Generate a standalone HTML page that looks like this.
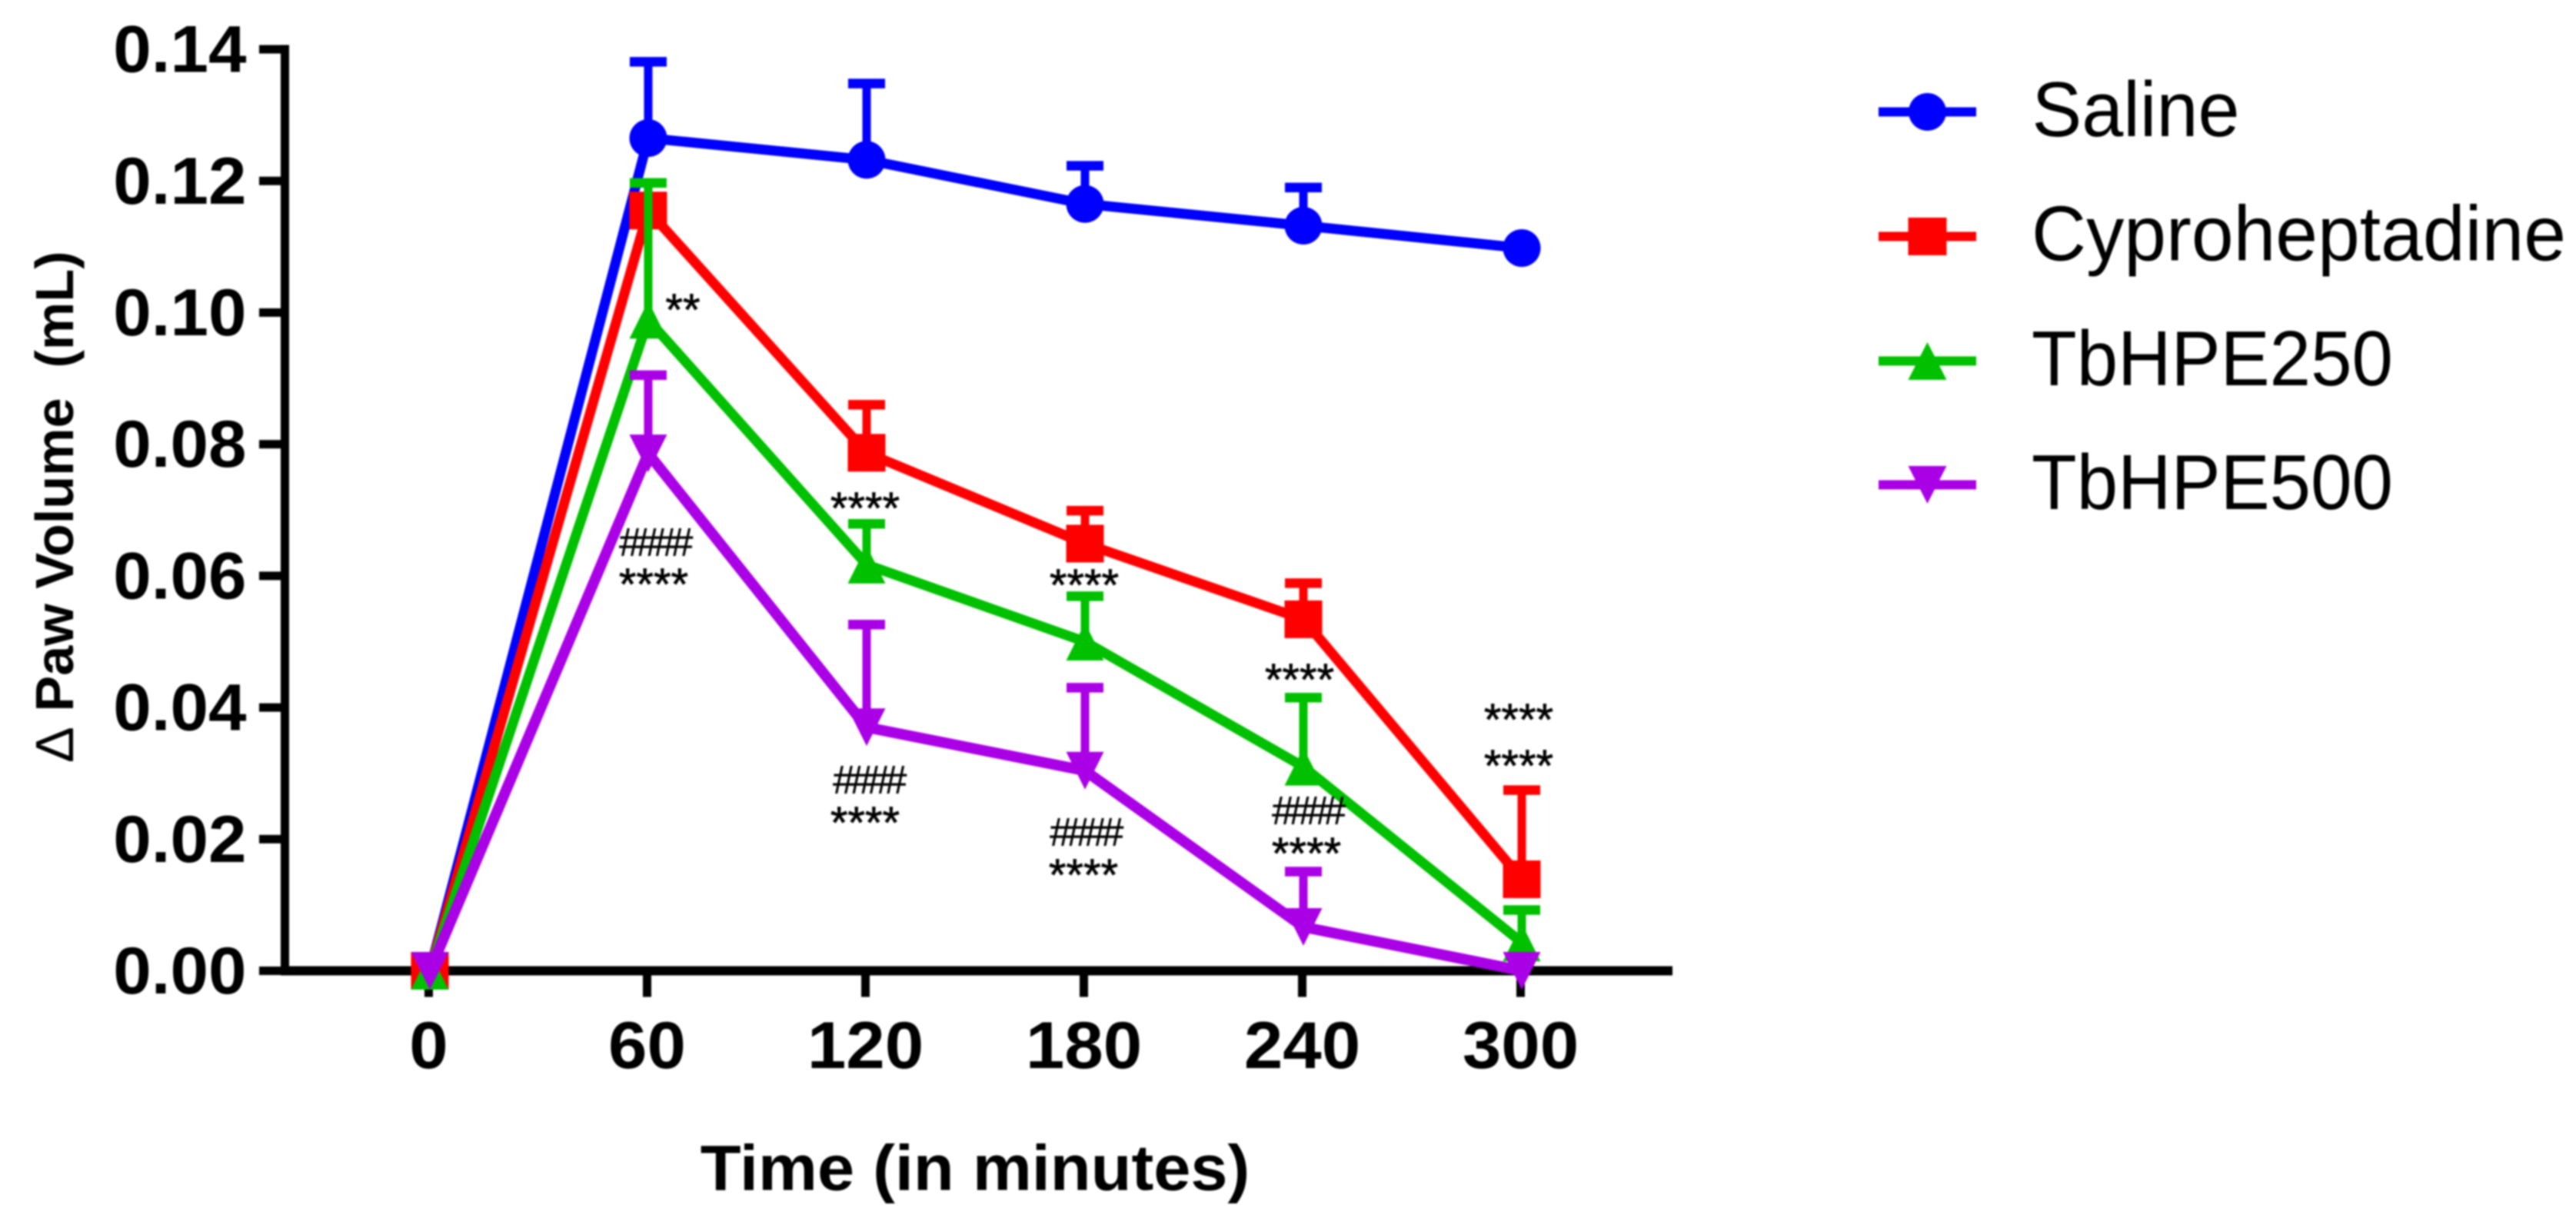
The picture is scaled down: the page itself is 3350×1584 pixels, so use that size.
<!DOCTYPE html>
<html lang="en">
<head>
<meta charset="utf-8">
<title>Paw Volume Chart</title>
<style>
html,body{margin:0;padding:0;background:#fff;}
svg{display:block;filter:blur(1px);}
text{font-family:"Liberation Sans",Arial,sans-serif;fill:#000;}
.star{font-size:58px;text-anchor:middle;stroke:#000;stroke-width:0.7px;}
.hash{font-size:52px;text-anchor:middle;letter-spacing:-6.5px;stroke:#000;stroke-width:0.4px;}
.leg{font-size:101px;}
</style>
</head>
<body>
<svg id="chart" xmlns="http://www.w3.org/2000/svg" width="3350" height="1584" viewBox="0 0 3350 1584">
  <rect x="0" y="0" width="3350" height="1584" fill="#fff"/>
  <g id="axes"></g>
  <g id="series"></g>

  <g>
    <text class="star" x="888" y="423">**</text>
    <text class="hash" x="850" y="723">####</text>
    <text class="star" x="850" y="780">****</text>
    <text class="star" x="1125" y="681">****</text>
    <text class="hash" x="1128" y="1032">####</text>
    <text class="star" x="1125" y="1090">****</text>
    <text class="star" x="1410" y="781">****</text>
    <text class="hash" x="1410" y="1100">####</text>
    <text class="star" x="1409" y="1158">****</text>
    <text class="star" x="1690" y="904">****</text>
    <text class="hash" x="1699" y="1072">####</text>
    <text class="star" x="1699" y="1130">****</text>
    <text class="star" x="1975" y="956">****</text>
    <text class="star" x="1975" y="1016">****</text>
  </g>

  <text transform="translate(95,992) rotate(-90) scale(1.01,1)" font-size="69.5" font-weight="bold" xml:space="preserve"><tspan font-weight="normal">Δ</tspan> Paw Volume  (mL)</text>
  <text transform="translate(1268,1547.5) scale(1.035,1)" font-size="83.6" font-weight="bold" text-anchor="middle">Time (in minutes)</text>

  <g>
    <g>
      <rect x="2443" y="139.5" width="127" height="12" fill="#0000ff"/>
      <circle cx="2506.5" cy="145.5" r="24.5" fill="#0000ff"/>
      <text class="leg" x="2642.5" y="177" textLength="270" lengthAdjust="spacingAndGlyphs">Saline</text>
    </g>
    <g>
      <rect x="2443" y="301.5" width="127" height="12" fill="#ff0000"/>
      <rect x="2481.5" y="283" width="50" height="49" fill="#ff0000"/>
      <text class="leg" x="2642" y="338.5" textLength="695" lengthAdjust="spacingAndGlyphs">Cyproheptadine</text>
    </g>
    <g>
      <rect x="2443" y="463.5" width="127" height="12" fill="#00c000"/>
      <polygon points="2506.5,445 2531.5,494 2481.5,494" fill="#00c000"/>
      <text class="leg" x="2642" y="501" textLength="470" lengthAdjust="spacingAndGlyphs">TbHPE250</text>
    </g>
    <g>
      <rect x="2443" y="624.5" width="127" height="12" fill="#aa00e6"/>
      <polygon points="2481.5,606 2531.5,606 2506.5,655" fill="#aa00e6"/>
      <text class="leg" x="2642" y="662" textLength="470" lengthAdjust="spacingAndGlyphs">TbHPE500</text>
    </g>
  </g>
</svg>
<script>
const timePoints = [0, 60, 120, 180, 240, 300];
const xTickLabels = ["0", "60", "120", "180", "240", "300"];
const yTickValues = [0, 0.02, 0.04, 0.06, 0.08, 0.10, 0.12, 0.14];
const yTickLabels = ["0.00", "0.02", "0.04", "0.06", "0.08", "0.10", "0.12", "0.14"];

const salineMean = [0, 0.1265, 0.1232, 0.1165, 0.1132, 0.1098];
const salineUpper = [null, 0.1381, 0.1348, 0.1223, 0.1190, null];
const cyproMean = [0, 0.1155, 0.0787, 0.0649, 0.0534, 0.0139];
const cyproUpper = [null, 0.1175, 0.0860, 0.0699, 0.0589, 0.02745];
const tb250Mean = [0, 0.0989, 0.0617, 0.0500, 0.0310, 0.0043];
const tb250Upper = [null, 0.1197, 0.0679, 0.0569, 0.0415, 0.00923];
const tb500Mean = [0, 0.0786, 0.0370, 0.0304, 0.00666, 0];
const tb500Upper = [null, 0.0905, 0.0526, 0.0430, 0.01507, null];

const NS = "http://www.w3.org/2000/svg";
function xScale(t) { return 559 + t * 284 / 60; }
function yScale(v) { return 1262.5 - v * 8560; }
function make(parent, tag, attrs) {
  const el = document.createElementNS(NS, tag);
  for (const k in attrs) el.setAttribute(k, attrs[k]);
  parent.appendChild(el);
  return el;
}

const axes = document.getElementById("axes");
const seriesRoot = document.getElementById("series");

const yLine = make(axes, "rect", { x: 365, y: 58.5, width: 11, height: 1210, fill: "#000" });


const xLine = make(axes, "rect", { x: 365, y: 1256.5, width: 1810, height: 12, fill: "#000" });



yTickValues.forEach(function (v, i) {
  const y = yScale(v);
  const tick = make(axes, "rect", { x: 337, y: y - 5.5, width: 30, height: 11, fill: "#000" });
  
  
  const label = make(axes, "text", {
    transform: "translate(320.5," + (y + 29.5) + ") scale(1.035,1)",
    "font-size": 86, "font-weight": "bold", "text-anchor": "end"
  });
  label.textContent = yTickLabels[i];
  
  
});

timePoints.forEach(function (t, i) {
  const x = xScale(t) - 1.5;
  const tick = make(axes, "rect", { x: x - 5.5, y: 1262, width: 11, height: 34.5, fill: "#000" });
  
  
  const label = make(axes, "text", {
    transform: "translate(" + x + ",1389) scale(1.055,1)",
    "font-size": 86, "font-weight": "bold", "text-anchor": "middle"
  });
  label.textContent = xTickLabels[i];
  
  
});

function drawMarker(group, shape, cx, cy, color) {
  const h = 24.5;
  if (shape === "circle") {
    return make(group, "circle", { cx: cx, cy: cy, r: h, fill: color });
  }
  if (shape === "square") {
    return make(group, "rect", { x: cx - h, y: cy - h, width: 2 * h, height: 2 * h, fill: color });
  }
  if (shape === "up") {
    return make(group, "polygon", { points: cx + "," + (cy - h) + " " + (cx + h) + "," + (cy + h) + " " + (cx - h) + "," + (cy + h), fill: color });
  }
  return make(group, "polygon", { points: (cx - h) + "," + (cy - h) + " " + (cx + h) + "," + (cy - h) + " " + cx + "," + (cy + h), fill: color });
}

function drawSeries(name, means, uppers, color, shape, lineWidth) {
  const group = make(seriesRoot, "g", {});
  
  

  means.forEach(function (m, i) {
    if (uppers[i] === null) return;
    const x = xScale(timePoints[i]);
    const yTop = yScale(uppers[i]);
    const stem = make(group, "line", { x1: x, x2: x, y1: yScale(m), y2: yTop, stroke: color, "stroke-width": 11 });
    
    
    const cap = make(group, "line", { x1: x - 24, x2: x + 24, y1: yTop, y2: yTop, stroke: color, "stroke-width": 12.5 });
    
    
  });

  const pts = means.map(function (m, i) { return xScale(timePoints[i]) + "," + yScale(m); }).join(" ");
  const line = make(group, "polyline", { points: pts, fill: "none", stroke: color, "stroke-width": lineWidth, "stroke-linejoin": "miter" });
  
  

  means.forEach(function (m, i) {
    const marker = drawMarker(group, shape, xScale(timePoints[i]), yScale(m), color);
    
    
  });
}

drawSeries("series-saline", salineMean, salineUpper, "#0000ff", "circle", 13);
drawSeries("series-cyproheptadine", cyproMean, cyproUpper, "#ff0000", "square", 13);
drawSeries("series-tbhpe250", tb250Mean, tb250Upper, "#00c000", "up", 13);
drawSeries("series-tbhpe500", tb500Mean, tb500Upper, "#aa00e6", "down", 14);
</script>
</body>
</html>
